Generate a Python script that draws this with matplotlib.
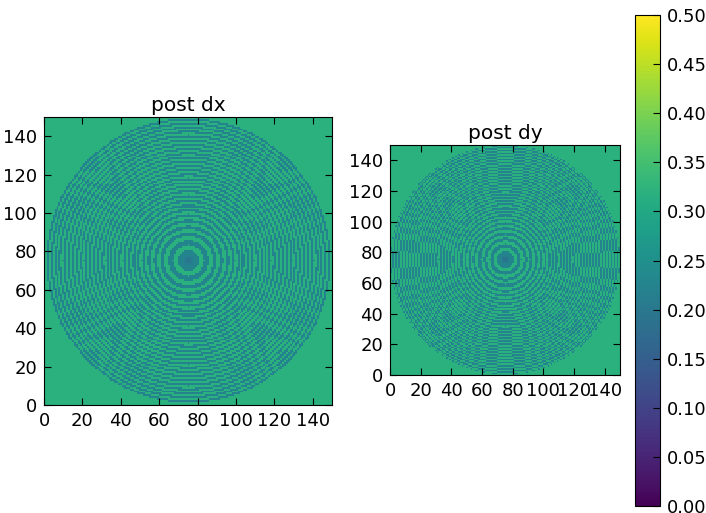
import numpy as np
import matplotlib
matplotlib.use("Agg")
import matplotlib.pyplot as plt

# ring edges (radius in cells from the centre)
edges_dx = [1.5, 3.0, 5.5, 8.0, 10.4, 12.6, 14.6, 16.4, 18.1, 19.7, 21.2, 22.6, 24.0, 25.3,
            26.6, 27.9, 29.2, 30.4, 31.6, 32.8, 34.0, 35.2, 36.4, 37.5, 38.6, 39.7, 40.8,
            41.9, 43.0, 44.1, 45.2, 46.3, 47.4, 48.5, 49.6, 50.7, 51.8, 52.9, 54.0, 55.1,
            56.2, 57.3, 58.4, 59.5, 60.6, 61.7, 62.8, 63.9, 65.0, 66.1, 67.2, 68.3, 69.4,
            70.5, 71.6, 72.7, 73.8]
edges_dy = [1.5, 3.0, 5.5, 7.8, 10.0, 12.1, 14.1, 16.0, 17.8, 19.5, 21.1, 22.6, 24.0, 25.4,
            26.7, 28.0, 29.3, 30.5, 31.7, 32.9, 34.1, 35.3, 36.4, 37.5, 38.6, 39.7, 40.8,
            41.9, 43.0, 44.1, 45.2, 46.2, 47.2, 48.2, 49.2, 50.2, 51.2, 52.2, 53.2, 54.2,
            55.2, 56.2, 57.2, 58.2, 59.2, 60.2, 61.2, 62.2, 63.2, 64.2, 65.2, 66.2, 67.2,
            68.2, 69.2, 70.2, 71.2, 72.2, 73.2, 74.2]
levels = [0.195, 0.215]
bright = 0.32
dark = 0.225
size = 150
ticks = [0, 20, 40, 60, 80, 100, 120, 140]
cbar_ticks = [0.00, 0.05, 0.10, 0.15, 0.20, 0.25, 0.30, 0.35, 0.40, 0.45, 0.50]


def rings(edges, half):
    # every cell takes the level of the ring it falls in
    yy, xx = np.mgrid[0:size, 0:size]
    rr = np.hypot(xx - 75, yy - 75)
    idx = np.searchsorted(edges, rr)
    out = np.where(idx % 2 == 0, dark, bright)
    out[rr < edges[0]] = levels[0]
    out[(rr >= edges[0]) & (rr < edges[1])] = levels[1]
    out[(rr >= edges[1]) & (rr < edges[2])] = dark
    out[rr >= half] = bright
    return out


plt.rcParams["font.family"] = "DejaVu Sans"
plt.rcParams["xtick.direction"] = "in"
plt.rcParams["ytick.direction"] = "in"

fig = plt.figure(figsize=(7.06, 5.13), dpi=100)
W, H = 706.0, 513.0

ax0 = fig.add_axes([44 / W, 1 - 405 / H, 288 / W, 288 / H])
ax1 = fig.add_axes([390 / W, 1 - 375 / H, 230 / W, 230 / H])
cax = fig.add_axes([635 / W, 1 - 506 / H, 25 / W, 491 / H])

im = ax0.imshow(rings(edges_dx, 74.5), origin="lower", cmap="viridis", vmin=0, vmax=0.5,
                interpolation="nearest")
ax0.set_title("post dx", fontsize=14.5, pad=4)
ax1.imshow(rings(edges_dy, 74.5), origin="lower", cmap="viridis", vmin=0, vmax=0.5,
           interpolation="nearest")
ax1.set_title("post dy", fontsize=14.5, pad=4)

for ax in [ax0, ax1]:
    ax.set_xlim(0, 150)
    ax.set_ylim(0, 150)
    ax.set_xticks(ticks)
    ax.set_yticks(ticks)
    ax.tick_params(labelsize=13, top=True, right=True, length=5, pad=5)

cb = fig.colorbar(im, cax=cax)
cb.set_ticks(cbar_ticks)
cb.set_ticklabels(["%.2f" % t for t in cbar_ticks])
cb.ax.tick_params(labelsize=13, length=5, direction="in", pad=5)

fig.savefig("out.png", dpi=100)
